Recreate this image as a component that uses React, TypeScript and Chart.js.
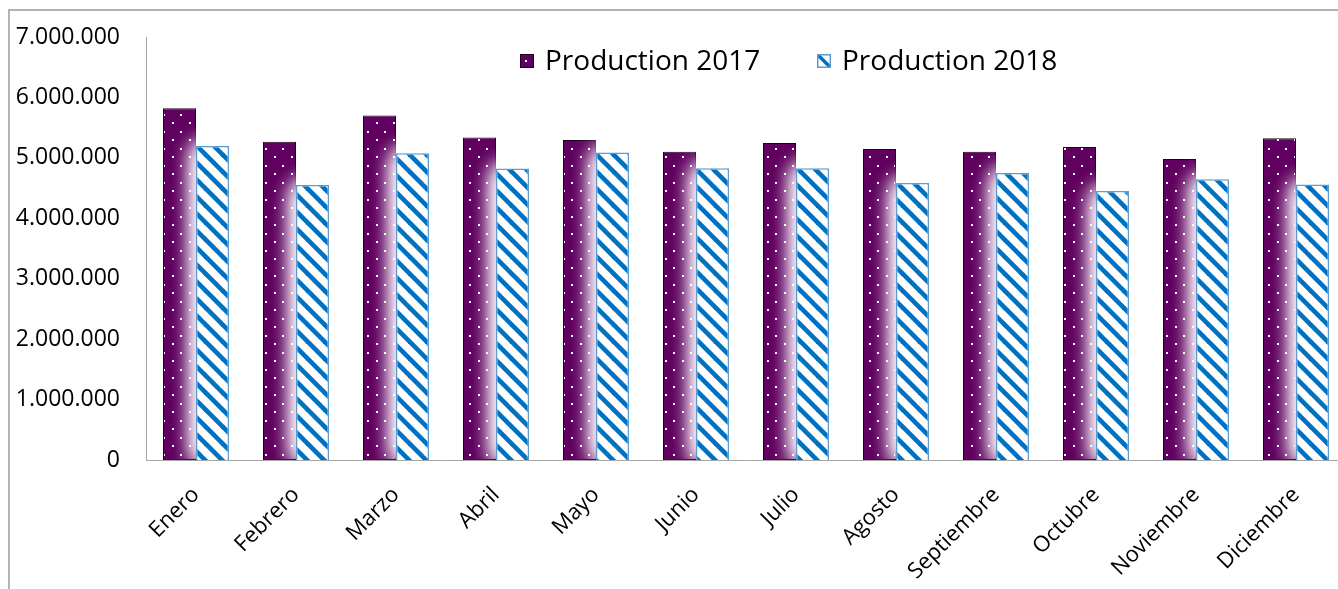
import React, { useEffect, useRef } from 'react';
import { Chart, registerables } from 'chart.js';

Chart.register(...registerables);

const months = ['Enero', 'Febrero', 'Marzo', 'Abril', 'Mayo', 'Junio', 'Julio', 'Agosto', 'Septiembre', 'Octubre', 'Noviembre', 'Diciembre'];
const production2017 = [5820000, 5265000, 5700000, 5335000, 5295000, 5100000, 5245000, 5145000, 5100000, 5180000, 4980000, 5325000];
const production2018 = [5195000, 4550000, 5075000, 4825000, 5090000, 4830000, 4830000, 4585000, 4750000, 4450000, 4645000, 4560000];
const seriesLabels = ['Production 2017', 'Production 2018'];
const yMin = 0;
const yMax = 7000000;
const yStep = 1000000;

const PURPLE = '#600060';
const PURPLE_BORDER = '#1e001e';
const BLUE = '#0070c0';
const BLUE_BORDER = '#5b9bd5';
const AXIS = '#a6a6a6';
const FONT = '"Open Sans", sans-serif';

function formatThousands(v: number): string {
  return String(Math.round(v)).replace(/\B(?=(\d{3})+(?!\d))/g, '.');
}

function makeDotPattern(ctx: CanvasRenderingContext2D) {
  const s = 17;
  const c = document.createElement('canvas');
  c.width = s;
  c.height = s;
  const g = c.getContext('2d')!;
  g.fillStyle = PURPLE;
  g.fillRect(0, 0, s, s);
  g.fillStyle = '#ffffff';
  g.fillRect(2, 3, 2, 2);
  g.fillRect(10, 12, 2, 2);
  return ctx.createPattern(c, 'repeat')!;
}

function makeStripePattern(ctx: CanvasRenderingContext2D) {
  const s = 17;
  const c = document.createElement('canvas');
  c.width = s;
  c.height = s;
  const g = c.getContext('2d')!;
  g.fillStyle = '#ffffff';
  g.fillRect(0, 0, s, s);
  g.strokeStyle = BLUE;
  g.lineWidth = 4.6;
  for (const off of [-s, 0, s]) {
    g.beginPath();
    g.moveTo(off - 4, -4);
    g.lineTo(off + s + 4, s + 4);
    g.stroke();
  }
  return ctx.createPattern(c, 'repeat')!;
}

const customPlugin = {
  id: 'customDecor',
  beforeDraw(chart: any) {
    const ctx = chart.ctx as CanvasRenderingContext2D;
    ctx.save();
    ctx.strokeStyle = '#b3b3b3';
    ctx.lineWidth = 2;
    ctx.beginPath();
    ctx.moveTo(9, 600);
    ctx.lineTo(9, 10);
    ctx.lineTo(1500, 10);
    ctx.stroke();
    ctx.restore();
  },
  afterDatasetDraw(chart: any, args: any) {
    if (args.index !== 0) return;
    const ctx = chart.ctx as CanvasRenderingContext2D;
    const area = chart.chartArea;
    const meta = chart.getDatasetMeta(1);
    ctx.save();
    ctx.beginPath();
    ctx.rect(area.left + 1, area.top, area.right - area.left, area.bottom - area.top - 1);
    ctx.clip();
    ctx.shadowColor = '#ffffff';
    ctx.shadowBlur = 22;
    ctx.fillStyle = '#ffffff';
    for (let k = 0; k < 3; k++) {
      meta.data.forEach((el: any) => {
        const p = el.getProps(['x', 'y', 'width', 'base'], true);
        ctx.fillRect(p.x - p.width / 2, p.y, p.width, p.base - p.y);
      });
    }
    ctx.restore();
    meta.data.forEach((el: any) => el.draw(ctx, area));
  },
  afterDraw(chart: any) {
    const ctx = chart.ctx as CanvasRenderingContext2D;
    const cy = 61;
    const box = 14;
    const items = [
      { x: 520, label: seriesLabels[0], kind: 0 },
      { x: 817, label: seriesLabels[1], kind: 1 },
    ];
    ctx.save();
    items.forEach((it) => {
      const bx = it.x;
      const by = cy - box / 2;
      if (it.kind === 0) {
        ctx.fillStyle = PURPLE;
        ctx.fillRect(bx, by, box, box);
        ctx.fillStyle = '#ffffff';
        ctx.fillRect(bx + 5, by + 6, 2, 2);
        ctx.strokeStyle = PURPLE_BORDER;
        ctx.lineWidth = 1;
        ctx.strokeRect(bx + 0.5, by + 0.5, box - 1, box - 1);
      } else {
        ctx.fillStyle = '#ffffff';
        ctx.fillRect(bx, by, box, box);
        ctx.save();
        ctx.beginPath();
        ctx.rect(bx, by, box, box);
        ctx.clip();
        ctx.strokeStyle = BLUE;
        ctx.lineWidth = 3.5;
        ctx.beginPath();
        ctx.moveTo(bx, by);
        ctx.lineTo(bx + box, by + box);
        ctx.stroke();
        ctx.restore();
        ctx.strokeStyle = BLUE_BORDER;
        ctx.lineWidth = 1.5;
        ctx.strokeRect(bx + 0.75, by + 0.75, box - 1.5, box - 1.5);
      }
      ctx.fillStyle = '#000000';
      ctx.font = `28px ${FONT}`;
      ctx.textBaseline = 'middle';
      ctx.textAlign = 'left';
      ctx.fillText(it.label, bx + box + 11, cy + 1);
    });
    ctx.restore();
  },
};

export default function App() {
  const ref = useRef<HTMLCanvasElement>(null);

  useEffect(() => {
    const canvas = ref.current!;
    const ctx = canvas.getContext('2d')!;
    const dotPattern = makeDotPattern(ctx);
    const stripePattern = makeStripePattern(ctx);

    const chart: any = new Chart(ctx, {
      type: 'bar',
      data: {
        labels: months,
        datasets: [
          {
            label: seriesLabels[0],
            data: production2017,
            backgroundColor: dotPattern,
            borderColor: PURPLE_BORDER,
            borderWidth: 1,
            categoryPercentage: 0.66,
            barPercentage: 1,
          },
          {
            label: seriesLabels[1],
            data: production2018,
            backgroundColor: stripePattern,
            borderColor: BLUE_BORDER,
            borderWidth: 1.5,
            categoryPercentage: 0.66,
            barPercentage: 1,
          },
        ],
      },
      options: {
        responsive: false,
        animation: false,
        devicePixelRatio: 1,
        layout: { padding: { top: 37, right: 54, left: 0, bottom: 0 } },
        plugins: {
          legend: { display: false },
          tooltip: { enabled: false },
        },
        scales: {
          x: {
            grid: { display: false, drawTicks: false },
            border: { display: true, color: AXIS, width: 1, z: 1 },
            ticks: {
              autoSkip: false,
              maxRotation: 45,
              minRotation: 45,
              padding: 22,
              color: '#000000',
              font: { family: FONT, size: 22 },
            },
            afterFit(scale: any) {
              scale.height = 129;
            },
          },
          y: {
            min: yMin,
            max: yMax,
            grid: { display: false, drawTicks: false },
            border: { display: true, color: AXIS, width: 1, z: 1 },
            ticks: {
              stepSize: yStep,
              padding: 26,
              color: '#000000',
              font: { family: FONT, size: 23 },
              callback: (v: any) => formatThousands(Number(v)),
            },
            afterFit(scale: any) {
              scale.width = 146;
              scale.paddingTop = 14;
              scale.paddingBottom = 14;
            },
          },
        },
      },
      plugins: [customPlugin],
    });

    return () => chart.destroy();
  }, []);

  return (
    <div
      style={{
        position: 'absolute',
        left: 0,
        top: 0,
        width: 1338,
        height: 589,
        overflow: 'hidden',
        background: '#ffffff',
      }}
    >
      <canvas ref={ref} width={1400} height={589} style={{ display: 'block', width: 1400, height: 589 }} />
    </div>
  );
}
